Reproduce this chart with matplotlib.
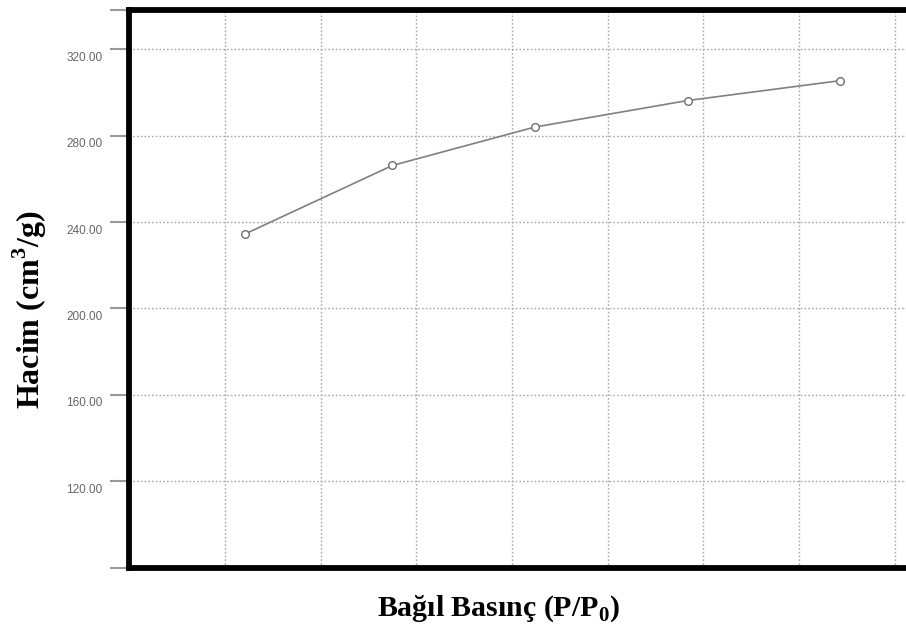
import matplotlib.pyplot as plt
import matplotlib.transforms as mtransforms

plt.rcParams['mathtext.fontset'] = 'custom'
plt.rcParams['mathtext.rm'] = 'Liberation Serif:bold'
plt.rcParams['mathtext.bf'] = 'Liberation Serif:bold'

# relative pressure and adsorbed volume
p_rel = [0.0485, 0.110, 0.1695, 0.2334, 0.2972]
volume = [234.5, 266.2, 284.0, 296.3, 305.5]

y_ticks = [80, 120, 160, 200, 240, 280, 320, 338]
y_labels = ["", "120.00", "160.00", "200.00", "240.00", "280.00", "320.00", ""]
x_grid = [0.04, 0.08, 0.12, 0.16, 0.20, 0.24, 0.28, 0.32]

fig = plt.figure(figsize=(9.06, 6.31), dpi=100)
ax = fig.add_axes([0.1424, 0.1006, 0.8576, 0.8828])

ax.plot(p_rel, volume, color="#808080", lw=1.2, marker="o", ms=5.5,
        mfc="white", mec="#707070", mew=1, zorder=3)

ax.set_xlim(0, 0.3246)
ax.set_ylim(80, 338)
ax.set_xticks(x_grid)
ax.set_yticks(y_ticks)
ax.set_yticklabels(y_labels, fontsize=8.5, color="#666666", family="Liberation Sans")
ax.tick_params(axis="x", length=0, labelbottom=False)
ax.tick_params(axis="y", length=14, width=1.5, color="#999999", pad=5)
ax.grid(True, linestyle=(0, (1.2, 1.5)), color="#a8a8a8", lw=1.0)

offset = mtransforms.ScaledTranslation(0, -7 / 100, fig.dpi_scale_trans)
for lab in ax.get_yticklabels():
    lab.set_transform(lab.get_transform() + offset)

for side in ["left", "top", "bottom"]:
    ax.spines[side].set_linewidth(4.2)
    ax.spines[side].set_color("black")
ax.spines["right"].set_visible(False)

fig.text(0.55, 0.036, r"Bağıl Basınç (P/P$_{0}$)", ha="center", va="center",
         family="Liberation Serif", weight="bold", fontsize=21.5)
fig.text(0.033, 0.509, r"Hacim (cm$^{3}$/g)", ha="center", va="center",
         rotation=90, family="Liberation Serif", weight="bold", fontsize=23)

fig.savefig("out.png", dpi=100)
